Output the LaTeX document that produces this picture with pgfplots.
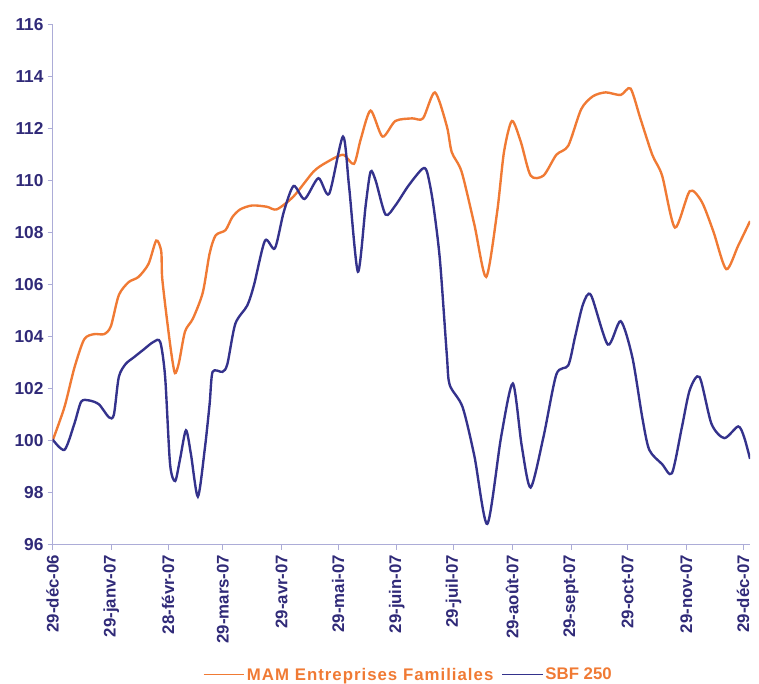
\documentclass[border=0pt]{standalone}
\usepackage{fontspec}
\setmainfont{Liberation Sans}
\usepackage{pgfplots}
\pgfplotsset{compat=1.18}
\definecolor{mamorange}{RGB}{240,122,52}
\definecolor{sbfblue}{RGB}{52,50,140}
\definecolor{axcol}{RGB}{172,172,215}
\definecolor{lblcol}{RGB}{48,42,120}
\begin{document}
\begin{tikzpicture}
\begin{axis}[
  scale only axis,
  width=703bp, height=524bp,
  xmin=0, xmax=368.7, ymin=96, ymax=116,
  axis lines*=left,
  axis line style={axcol, line width=1bp},
  every tick/.style={axcol, line width=0.8bp},
  tick align=outside,
  major tick length=5bp,
  ytick={96,98,...,116},
  xtick={0,31,61,90,121,151,182,212,243,274,304,335,365},
  xticklabels={29-déc-06,29-janv-07,28-févr-07,29-mars-07,29-avr-07,29-mai-07,29-juin-07,29-juil-07,29-août-07,29-sept-07,29-oct-07,29-nov-07,29-déc-07},
  xticklabel style={rotate=90, anchor=east, font=\fontsize{17}{18}\selectfont\bfseries, text=lblcol, inner sep=5bp},
  yticklabel style={font=\fontsize{17.5}{18}\selectfont\bfseries, text=lblcol, inner sep=4bp},
  /pgf/number format/assume math mode=true,
  legend columns=2,
  legend style={at={(0.51,-0.25)}, anchor=center, draw=none, fill=none,
    font=\fontsize{17}{18}\selectfont\bfseries, text=mamorange,
    /tikz/every even column/.append style={column sep=6bp}},
  legend image code/.code={\draw[#1, line width=1.5bp] (0bp,0bp) -- (41bp,0bp);},
  clip=true,
]
\coordinate (O) at (rel axis cs:0,0);
\addplot[mamorange, line width=2.4bp, smooth, tension=0.45] coordinates {
(0,100.0) (6.3,101.3) (11.5,102.8) (16.7,103.9) (21.9,104.1) (27.2,104.1) (30.8,104.4)
(35.0,105.6) (40.2,106.1) (45.4,106.3) (50.7,106.8) (54.8,107.7) (57.4,107.3)
(57.9,106.3) (59.9,105.0) (62.7,103.4) (64.7,102.6) (66.8,103.0) (70.0,104.2) (74.2,104.7)
(79.4,105.7) (83.0,107.2) (86.2,107.9) (91.4,108.1) (95.0,108.6) (99.2,108.9) (105.5,109.05)
(113.3,109.0) (118.5,108.9) (127.4,109.4) (137.9,110.35) (144.6,110.7) (153.5,111.0)
(159.3,110.65) (162.9,111.6) (168.1,112.7) (174.4,111.7) (181.2,112.3) (190.1,112.4)
(195.8,112.4) (202.1,113.4) (208.4,112.1) (211.0,111.1) (216.2,110.35) (223.0,108.3)
(229.2,106.3) (235.0,108.8) (238.6,111.1) (242.8,112.3) (247.5,111.5) (252.7,110.2)
(259.5,110.2) (266.3,111.0) (272.6,111.35) (279.4,112.75) (285.6,113.25) (292.4,113.4)
(300.3,113.3) (305.5,113.55) (310.7,112.4) (317.0,111.0) (322.2,110.2) (329.0,108.2)
(336.8,109.6) (343.1,109.2) (349.3,108.05) (356.1,106.6) (362.4,107.5) (368.7,108.45)
};
\addlegendentry{\addfontfeature{LetterSpace=6}MAM Entreprises Familiales}
\addplot[sbfblue, line width=2.4bp, smooth, tension=0.45] coordinates {
(0,100.05) (6.3,99.65) (11.5,100.65) (15.1,101.5) (19.3,101.55) (24.5,101.4) (29.8,100.9)
(32.4,101.0) (35.0,102.45) (38.6,102.95) (42.8,103.2) (48.0,103.5) (53.3,103.8) (56.9,103.8)
(59.5,102.45) (62.1,99.1) (64.8,98.45) (67.4,99.3) (70.5,100.4) (73.1,99.5) (76.8,97.85)
(80.4,99.65) (83.0,101.4) (84.6,102.65) (89.8,102.65) (92.4,102.95) (96.6,104.5) (102.9,105.2)
(106.5,106.0) (112.3,107.7) (117.5,107.4) (122.2,108.8) (127.4,109.8) (133.2,109.3)
(140.5,110.1) (146.2,109.5) (153.5,111.7) (156.7,109.8) (161.4,106.5) (165.5,109.05)
(168.1,110.35) (170.8,110.0) (176.0,108.7) (181.2,109.05) (188.0,109.8) (195.3,110.45)
(197.9,110.35) (201.0,109.2) (204.7,107.0) (208.4,103.3) (209.9,102.15) (216.7,101.3)
(223.0,99.4) (229.8,96.8) (237.1,100.15) (243.3,102.2) (248.0,99.8) (252.7,98.2)
(259.5,100.15) (266.3,102.55) (272.6,102.9) (276.2,104.0) (280.4,105.25) (284.6,105.6)
(293.5,103.7) (300.3,104.6) (306.5,103.2) (311.7,100.9) (315.4,99.65) (322.2,99.1)
(327.4,98.75) (332.6,100.5) (336.8,101.95) (342.0,102.45) (348.3,100.65) (355.1,100.1)
(362.4,100.55) (365.5,100.15) (368.7,99.3)
};
\addlegendentry{SBF 250}
\end{axis}
\pgfresetboundingbox
\path[use as bounding box] ([shift={(-53bp,-140bp)}]O) rectangle ([shift={(712bp,549bp)}]O);
\end{tikzpicture}
\end{document}
